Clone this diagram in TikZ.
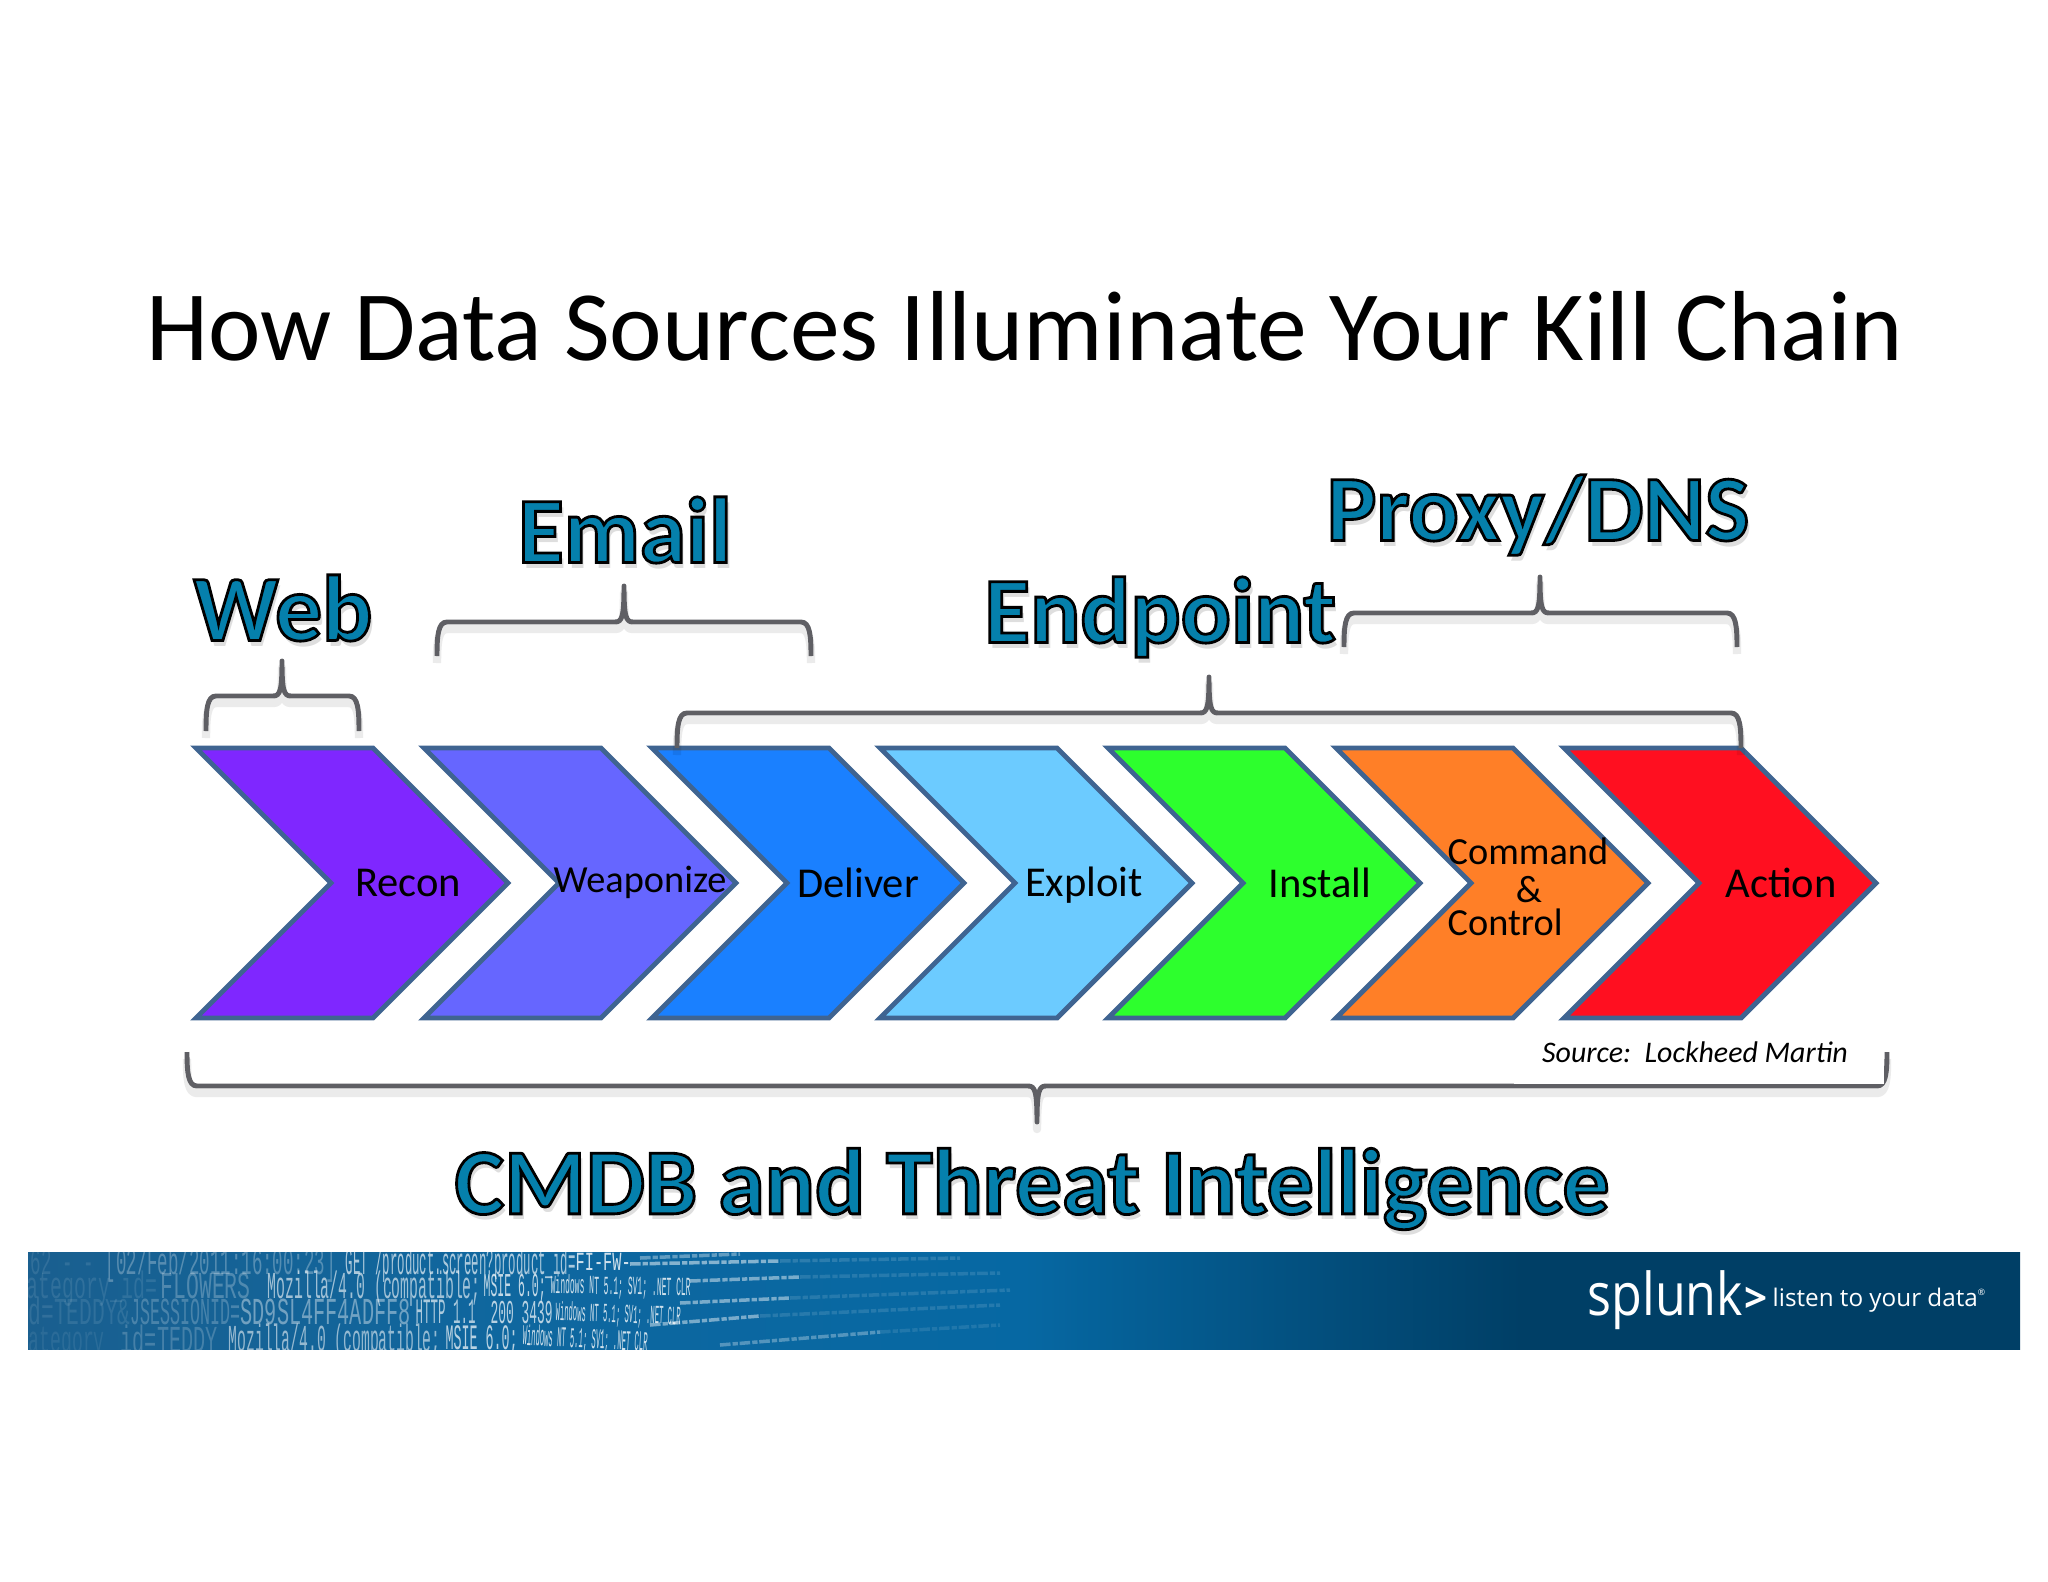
\documentclass[tikz,border=0pt]{standalone}
\usepackage{fontspec}
\usepackage{graphicx}
\setmainfont{Carlito}
\newfontfamily\logfont{Liberation Mono}
\newfontfamily\logofont{Open Sans}
\newfontface\bigfont[FakeBold=3]{Carlito Bold}
\usetikzlibrary{calc}
\definecolor{bandA}{HTML}{1A5F8F}
\definecolor{bandB}{HTML}{0F679F}
\definecolor{bandC}{HTML}{0668A3}
\definecolor{bandD}{HTML}{03507F}
\definecolor{bandE}{HTML}{003F66}
\definecolor{chevline}{HTML}{3F6491}
\definecolor{braceline}{HTML}{5F5F64}
\definecolor{tealtext}{HTML}{0580AC}
\definecolor{cRecon}{HTML}{7F27FF}
\definecolor{cWeapon}{HTML}{6666FF}
\definecolor{cDeliver}{HTML}{1A80FF}
\definecolor{cExploit}{HTML}{6CCBFF}
\definecolor{cInstall}{HTML}{2DFF2D}
\definecolor{cCommand}{HTML}{FF7F27}
\definecolor{cAction}{HTML}{FF0F20}
\pgfdeclarehorizontalshading{bandshade}{100bp}{color(0bp)=(bandA); color(25bp)=(bandA); color(37bp)=(bandB); color(50bp)=(bandC); color(57bp)=(bandD); color(62.5bp)=(bandE); color(100bp)=(bandE)}
\newlength{\pxu}
\setlength{\pxu}{0.01cm}
\tikzset{
	chev/.style={draw=chevline,line width=1.4pt,miter limit=10},
	chevtext/.style={font=\fontsize{12.1}{14}\selectfont,inner sep=0pt},
	chevsmall/.style={font=\fontsize{10.9}{13}\selectfont,inner sep=0pt},
	bracepath/.style={draw=braceline,line width=1.4pt,line join=round},
	braceshade/.style={draw=black,opacity=0.08,line width=2.4pt,line join=round},
	biglabel/.style={font=\fontsize{26.6}{32}\selectfont\bigfont,inner sep=0pt},
	bigshadow/.style={font=\fontsize{26.6}{32}\selectfont\bfseries,inner sep=0pt,text=black,opacity=0.13},
	logbit/.style={anchor=west,inner sep=0pt,text=white,font=\logfont},
}
% x1, xc, x2, y of the ends, y of the bar, y of the tip, side
\newcommand{\brc}[7]{
	\foreach \stl/\dy in {braceshade/7,bracepath/0}{
		\draw[\stl,yshift={-\dy*0.01cm}] (#1,#4) .. controls (#1,{#5+14*#7}) and ({#1+1},#5) .. ({#1+10},#5) -- ({#2-9},#5) .. controls ({#2-2},#5) and (#2,{#5-5*#7}) .. (#2,#6) .. controls (#2,{#5-5*#7}) and ({#2+2},#5) .. ({#2+9},#5) -- ({#3-10},#5) .. controls ({#3-1},#5) and (#3,{#5+14*#7}) .. (#3,#4);
	}
}
\begin{document}
\begin{tikzpicture}[x=0.01cm,y=-0.01cm]
	\useasboundingbox (0,0) rectangle (2048,1582);
	\fill[white] (0,0) rectangle (2048,1582);
	\node[font=\fontsize{28.3}{34}\selectfont,inner sep=0pt] (title) at (1025,326) {How Data Sources Illuminate Your Kill Chain};
	% chevrons
	\foreach \i/\fillc in {0/cRecon,1/cWeapon,2/cDeliver,3/cExploit,4/cInstall,5/cCommand,6/cAction}{
		\begin{scope}[shift={(228*\i,0)}]
			\draw[chev,fill=\fillc] (196,748) -- (373,748) -- (508,883) -- (373,1018) -- (196,1018) -- (331,883) -- cycle;
		\end{scope}
	}
	\node[chevtext] (recon) at (408,883) {Recon};
	\node[chevsmall] (weaponize) at (640,882) {Weaponize};
	\node[chevtext] (deliver) at (858,883) {Deliver};
	\node[chevtext] (exploit) at (1084,885) {Exploit};
	\node[chevtext] (install) at (1320,883) {Install};
	\node[chevsmall,anchor=west] (command) at (1447,851) {Command};
	\node[chevsmall] (amp) at (1529,890) {\&};
	\node[chevsmall,anchor=west] (control) at (1447,922) {Control};
	\node[chevtext] (action) at (1781,883) {Action};
	% braces
	\brc{206}{282}{359}{731}{696}{661}{1}
	\brc{437}{624}{811}{656}{622}{586}{1}
	\brc{677}{1209}{1741}{748}{713}{677}{1}
	\brc{1344}{1540}{1737}{647}{613}{577}{1}
	\brc{187}{1037}{1887}{1052}{1086}{1122}{-1}
	\fill[white] (1514,1026) rectangle (1884,1084);
	\node[font=\fontsize{8.5}{10}\selectfont\itshape,inner sep=0pt] (source) at (1695,1052) {Source:\ \ Lockheed Martin};
	% big labels
	\foreach \nm/\cx/\cy/\txt in {web/283/608/Web,email/625/530/Email,endpoint/1160/617/Endpoint,proxy/1538/515/{Proxy/DNS},cmdb/1032/1189/CMDB and Threat Intelligence}{
		\node[bigshadow] (\nm shadow) at ($(\cx,\cy)+(3,6)$) {\txt};
		\node[biglabel,text=tealtext] (\nm) at (\cx,\cy) {\special{pdf:code 0 0 0 RG}\txt};
	}
	% band
	\shade[shading=bandshade] (28,1252) rectangle (2020,1349);
	\begin{scope}
		\clip (28,1252) rectangle (2020,1349);
		\foreach \n/\px/\py/\bw/\bh/\op/\rot/\txt in {
			a/30/1265/63/32/0.1/0/{62 - -},
			b/105/1265/230/32/0.28/0/{[02/Feb/2011:16:00:23]},
			c/345/1265/230/32/0.65/0/{GET /product.screen?product\_id=},
			d/575/1264/55/22/0.8/0/{FI-FW-},
			e/14/1289/143/32/0.1/0/{category\_id=},
			f/160/1289/90/32/0.25/0/{FLOWERS},
			g/267/1289/213/32/0.6/0/{Mozilla/4.0 (compatible;},
			h/483/1288/62/28/0.75/0/{MSIE 6.0;},
			i/550/1287/140/22/0.8/-1/{Windows NT 5.1; SV1; .NET CLR},
			j/28/1315/102/32/0.1/0/{d=TEDDY\&},
			k/130/1315/110/32/0.22/0/{JSESSIONID=},
			l/240/1315/170/32/0.4/0/{SD9SL4FF4ADFF8},
			m/415/1315/60/30/0.65/0/{HTTP 1.1},
			n/490/1315/62/28/0.7/0/{200 3439},
			o/555/1314/125/22/0.8/-2/{Windows NT 5.1; SV1; .NET CLR},
			p/28/1343/87/32/0.08/0/{ategory\_},
			q/120/1343/97/32/0.2/0/{id=TEDDY},
			r/228/1342/212/32/0.55/0/{Mozilla/4.0 (compatible;},
			s/445/1341/72/30/0.7/0/{MSIE 6.0;},
			t/522/1338/125/24/0.8/-3/{Windows NT 5.1; SV1; .NET CLR}}{
			\node[logbit,opacity=\op,rotate=\rot] (log\n) at (\px,\py) {\resizebox{\bw\pxu}{\bh\pxu}{\strut\txt}};
		}
		% the far ends of the log lines
		\foreach \xa/\ya/\xb/\yb/\op in {630/1264/780/1261/0.5,780/1261/960/1258/0.14,690/1281/800/1277/0.45,800/1277/1000/1273/0.12,680/1303/790/1298/0.45,790/1298/1010/1290/0.12,650/1325/760/1316/0.45,760/1316/1000/1305/0.12,720/1345/880/1332/0.3,880/1332/1000/1325/0.1,640/1258/740/1254/0.35}{
			\draw[white,line width=1pt,opacity=\op,dash pattern=on 3pt off 0.6pt on 1.5pt off 0.5pt] (\xa,\ya) -- (\xb,\yb);
		}
	\end{scope}
	% logo
	\node[font=\logofont\fontsize{16.8}{18}\selectfont,text=white,anchor=west,inner sep=0pt] (splunk) at (1587,1300) {\scalebox{0.85}[1]{splunk}};
	\node[font=\logofont\bfseries\fontsize{11.5}{14}\selectfont,text=white,anchor=west,inner sep=0pt] (gt) at (1744,1300) {>};
	\node[font=\logofont\fontsize{6.9}{9}\selectfont,text=white,anchor=west,inner sep=0pt] (slogan) at (1772,1300) {listen to your data\raisebox{3pt}{\fontsize{2.5}{3}\selectfont ®}};
\end{tikzpicture}
\end{document}
